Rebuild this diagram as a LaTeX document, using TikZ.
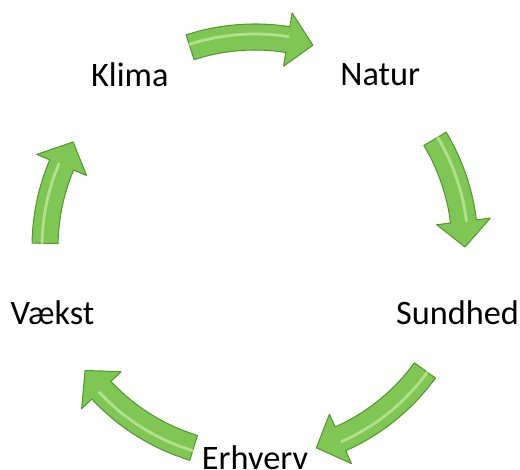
\documentclass[tikz,border=0pt]{standalone}
\usepackage{fontspec}
\setmainfont{Carlito}
\definecolor{leaf}{HTML}{80C655}
\definecolor{leafdark}{HTML}{4F9A2B}
\definecolor{leaflight}{HTML}{C6EDA6}
% curved block arrow: tail angle, head base angle, tip angle
\newcommand{\bentarrow}[3]{%
  \fill[leaf, draw=leafdark, line width=0.6pt, line join=round]
    (#1:4.46) arc[start angle=#1, end angle=#2, radius=4.46]
    -- (#2:4.74) -- (#3:4.2) -- (#2:3.66) -- (#2:3.94)
    arc[start angle=#2, end angle=#1, radius=3.94] -- cycle;
  \draw[leaflight, line width=1.6pt, line cap=round, opacity=0.7]
    (#1:4.26) arc[start angle=#1, end angle=#2, radius=4.26];
}
\tikzset{word/.style={font=\fontsize{19.5}{23}\selectfont, text=black}}
\begin{document}
\begin{tikzpicture}
\useasboundingbox (0,0) rectangle (10.4,9.38);
\begin{scope}[shift={(5.10,4.44)}]
% Arrows
\bentarrow{108}{81}{74}
\bentarrow{31}{7}{0}
\bentarrow{-36}{-66}{-73}
\bentarrow{-107}{-137}{-144}
\bentarrow{179}{157}{150}

% Labels
\node[word] (klima) at (126:4.26) {Klima};
\node[word] (natur) at (54:4.26) {Natur};
\node[word] (sundhed) at (-18:4.26) {Sundhed};
\node[word] (erhverv) at (-90:4.22) {Erhverv};
\node[word] (vaekst) at (198:4.26) {Vækst};
\end{scope}
\end{tikzpicture}
\end{document}
